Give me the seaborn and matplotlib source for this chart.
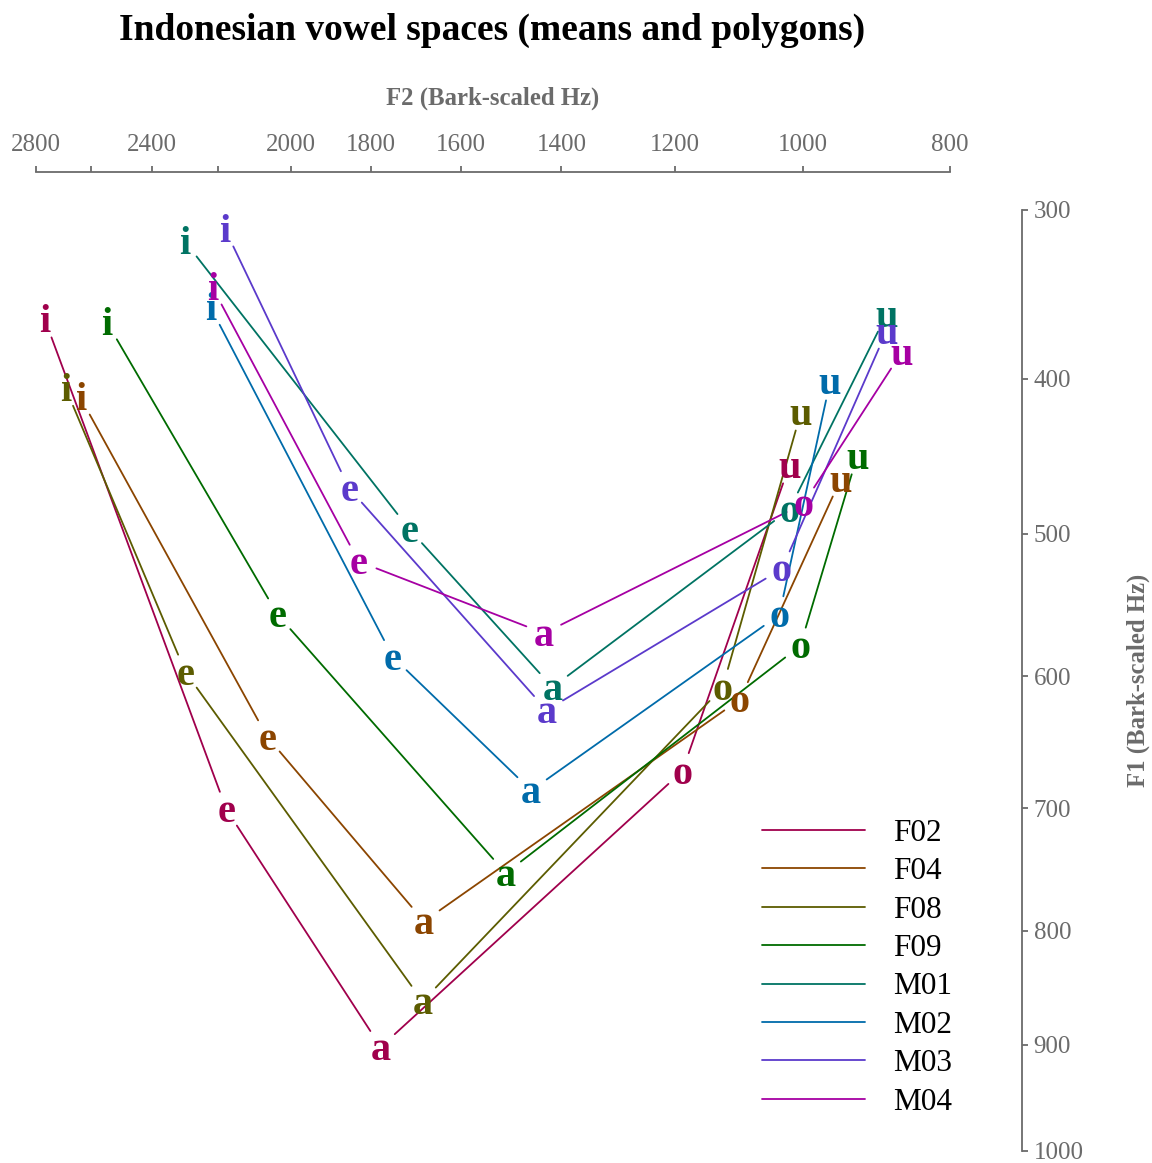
import numpy as np
import pandas as pd
import seaborn as sns
import matplotlib.pyplot as plt

# vowel order along each polygon
vowels = ['i', 'e', 'a', 'o', 'u']
speakers = ['F02', 'F04', 'F08', 'F09', 'M01', 'M02', 'M03', 'M04']
colours = ['#A0004C', '#8B4500', '#5C5C00', '#006B00', '#007363', '#006BAA', '#5B3ACB', '#A600A3']

# mean formants (Hz) per speaker, in the order i e a o u
f1_f02 = [364, 701, 902, 671, 455]
f2_f02 = [2766, 2175, 1778, 1187, 1020]
f1_f04 = [412, 645, 792, 617, 464]
f2_f04 = [2637, 2062, 1680, 1095, 946]
f1_f08 = [406, 597, 861, 608, 421]
f2_f08 = [2690, 2295, 1683, 1122, 1003]
f1_f09 = [366, 556, 752, 578, 449]
f2_f09 = [2545, 2034, 1508, 1004, 923]
f1_m01 = [318, 497, 608, 484, 361]
f2_m01 = [2297, 1713, 1417, 1020, 883]
f1_m02 = [357, 586, 686, 556, 402]
f2_m02 = [2220, 1750, 1458, 1035, 961]
f1_m03 = [311, 470, 625, 524, 371]
f2_m03 = [2179, 1853, 1428, 1031, 883]
f1_m04 = [345, 519, 569, 480, 384]
f2_m04 = [2215, 1830, 1433, 999, 863]

f1_all = [f1_f02, f1_f04, f1_f08, f1_f09, f1_m01, f1_m02, f1_m03, f1_m04]
f2_all = [f2_f02, f2_f04, f2_f08, f2_f09, f2_m01, f2_m02, f2_m03, f2_m04]

x_ticks = [2800, 2600, 2400, 2200, 2000, 1800, 1600, 1400, 1200, 1000, 800]
x_labels = ['2800', '', '2400', '', '2000', '1800', '1600', '1400', '1200', '1000', '800']
y_ticks = [300, 400, 500, 600, 700, 800, 900, 1000]


def bark(f):
    # Traunmuller bark scale
    f = np.asarray(f, dtype=float)
    return 26.81 * f / (1960.0 + f) - 0.53


def hz(z):
    z = np.asarray(z, dtype=float)
    with np.errstate(divide='ignore', invalid='ignore'):
        return 1960.0 * (z + 0.53) / (26.28 - z)


sns.set_style('white')
plt.rcParams['font.family'] = ['Liberation Serif', 'DejaVu Serif']

grey = '#6b6b6b'
fig = plt.figure(figsize=(11.52, 11.63), dpi=100)
ax = fig.add_axes([35.8 / 1152, 1 - 1151 / 1163, 914.2 / 1152, 941 / 1163])
ax.set_xscale('function', functions=(bark, hz))
ax.set_yscale('function', functions=(bark, hz))
ax.set_xlim(2800, 800)
ax.set_ylim(1000, 300)

# polygon segments, pulled back from the vowel labels (gap in pixels)
gap = 19
to_data = ax.transData.inverted()
rows = []
for spk, f1, f2 in zip(speakers, f1_all, f2_all):
    pts = ax.transData.transform(np.column_stack([f2, f1]))
    for j in range(len(vowels) - 1):
        p, q = pts[j], pts[j + 1]
        u = (q - p) / np.hypot(*(q - p))
        seg = to_data.transform([p + u * gap, q - u * gap])
        for x, y in seg:
            rows.append({'speaker': spk, 'seg': f'{spk}_{j}', 'F2': x, 'F1': y})
segs = pd.DataFrame(rows)

sns.lineplot(data=segs, x='F2', y='F1', hue='speaker', hue_order=speakers,
             palette=dict(zip(speakers, colours)), units='seg', estimator=None,
             sort=False, linewidth=1.3, ax=ax)

for spk, f1, f2, col in zip(speakers, f1_all, f2_all, colours):
    for v, y, x in zip(vowels, f1, f2):
        ax.annotate(v, (x, y), xytext=(0, -2.2), textcoords='offset points',
                    color=col, fontsize=29, fontweight='bold',
                    ha='center', va='center')

ax.set_xlim(2800, 800)
ax.set_ylim(1000, 300)
ax.minorticks_off()

for s in ['left', 'bottom']:
    ax.spines[s].set_visible(False)
for s in ['top', 'right']:
    ax.spines[s].set_visible(True)
    ax.spines[s].set_color(grey)
    ax.spines[s].set_linewidth(1.3)
ax.spines['top'].set_position(('outward', 27.4))
ax.spines['right'].set_position(('outward', 51.8))

ax.xaxis.tick_top()
ax.yaxis.tick_right()
ax.set_xticks(x_ticks)
ax.set_xticklabels(x_labels)
ax.set_yticks(y_ticks)
ax.set_yticklabels([str(t) for t in y_ticks])
ax.tick_params(axis='both', direction='out', length=4.5, width=1.3, color=grey,
               labelcolor=grey, labelsize=18)
ax.tick_params(axis='x', pad=7)
ax.tick_params(axis='y', pad=4)

ax.xaxis.set_label_position('top')
ax.yaxis.set_label_position('right')
ax.set_xlabel('F2 (Bark-scaled Hz)', fontsize=17.8, fontweight='bold', color=grey)
ax.set_ylabel('F1 (Bark-scaled Hz)', fontsize=17.8, fontweight='bold', color=grey, rotation=90)
ax.xaxis.label.set_va('center')
ax.yaxis.label.set_va('center')
ax.xaxis.set_label_coords(0.5, (1151 - 98.5) / 941)
ax.yaxis.set_label_coords((1138 - 35.8) / 914.2, 0.5)

fig.text(492 / 1152, 1 - 30 / 1163, 'Indonesian vowel spaces (means and polygons)',
         fontsize=27, fontweight='bold', color='black', ha='center', va='center')

sns.move_legend(ax, 'upper left', bbox_to_anchor=((762 - 35.8) / 914.2, (1151 - 819) / 941),
                title=None, frameon=False, fontsize=22.5, handlelength=3.3,
                handletextpad=0.9, labelspacing=0.3, borderpad=0, borderaxespad=0,
                labelcolor='black')

plt.savefig('out.png', dpi=100)
